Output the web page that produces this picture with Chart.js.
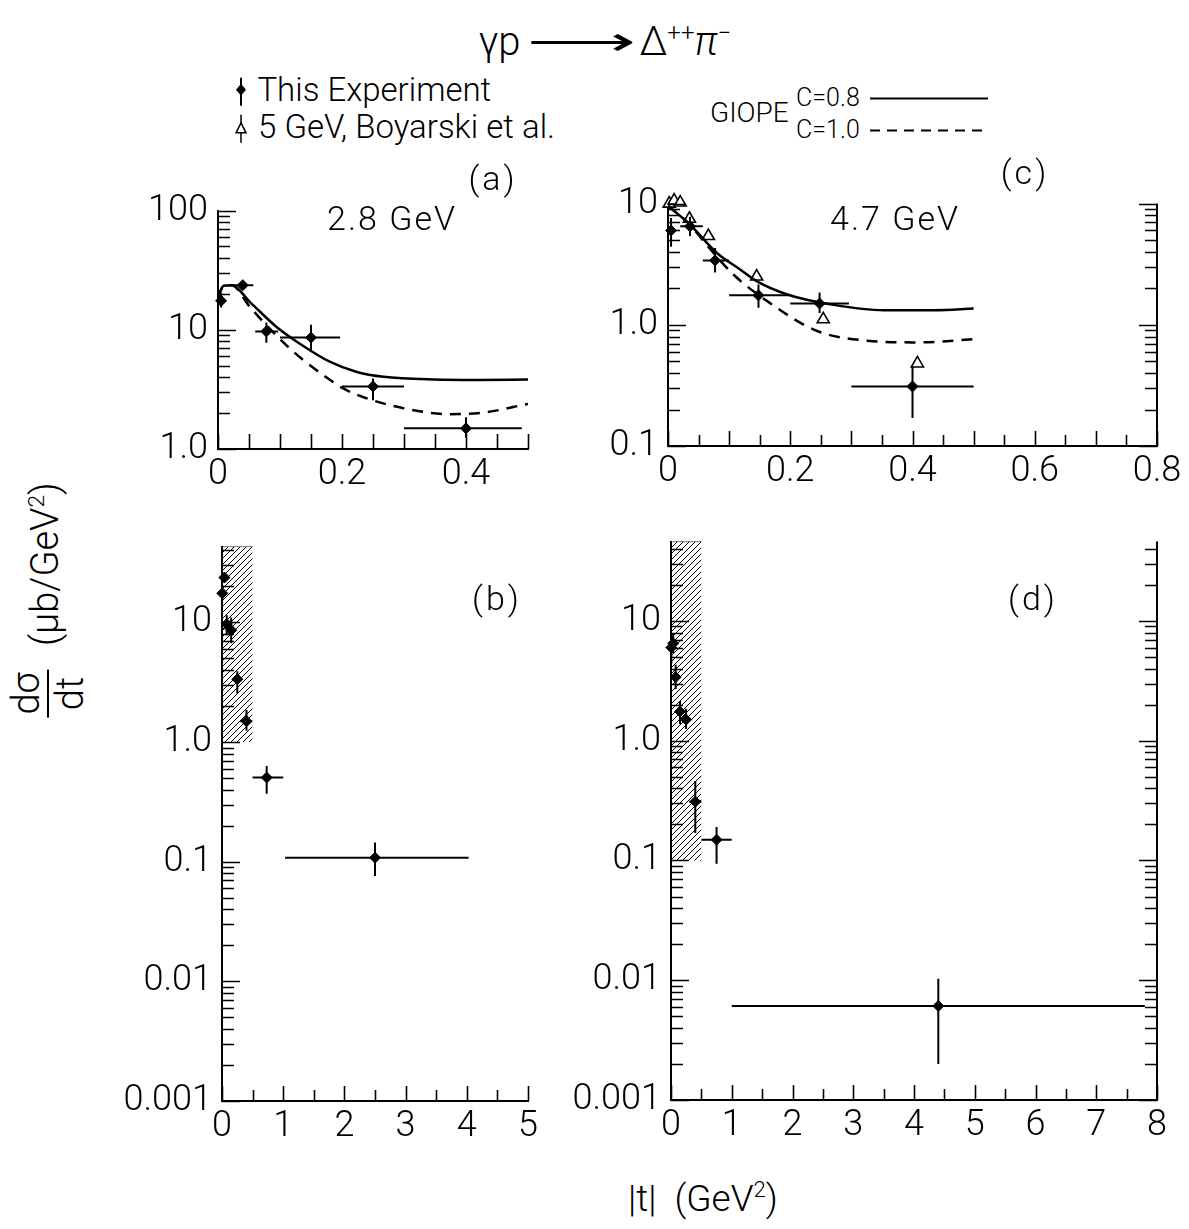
<!DOCTYPE html>
<html>
<head>
<meta charset="utf-8">
<script src="https://cdn.jsdelivr.net/npm/chart.js@4.4.1/dist/chart.umd.min.js"></script>
<style>
  html, body { margin: 0; padding: 0; background: #fff; }
  #page { position: relative; width: 1189px; height: 1229px; overflow: hidden; background: #fff;
          font-family: Roboto, 'DejaVu Sans', sans-serif; font-weight: 300; color: #000; }
  canvas { position: absolute; }
  .txt { position: absolute; white-space: nowrap; line-height: 1; transform: translate(-50%, -50%); }
  .lft { transform: translate(0, -50%); }
  sup { font-size: 60%; vertical-align: 0.6em; line-height: 0; }
  .frac { display: inline-flex; flex-direction: column; vertical-align: middle; text-align: center; }
  .frac .num { border-bottom: 2px solid #000; padding: 0 3px 2px; }
  .frac .den { padding-top: 2px; }
  svg { vertical-align: middle; }
</style>
</head>
<body>
<div id="page">
  <canvas id="ca"></canvas>
  <canvas id="cc"></canvas>
  <canvas id="cb"></canvas>
  <canvas id="cd"></canvas>

  <div class="txt" style="left:605px; top:42px; font-size:40px;">γp<span style="display:inline-block; transform:scaleX(1.9); margin:0 30px 0 32px;">⟶</span>Δ<sup>++</sup><i>π</i><sup>−</sup></div>

  <div class="txt lft" style="left:232px; top:90px; font-size:33px;">
    <svg width="18" height="30"><line x1="9" y1="1" x2="9" y2="29" stroke="#000" stroke-width="2"/><polygon points="9,7 14,13 9,19 4,13" fill="#000"/></svg>
    This Experiment</div>
  <div class="txt lft" style="left:232px; top:127px; font-size:33px;">
    <svg width="18" height="30"><line x1="9" y1="1" x2="9" y2="29" stroke="#000" stroke-width="1.5"/><polygon points="9,9 14,19 4,19" fill="#fff" stroke="#000" stroke-width="1.5"/></svg>
    5 GeV, Boyarski et al.</div>

  <div class="txt lft" style="left:710px; top:113px; font-size:28px;">GIOPE</div>
  <div class="txt lft" style="left:796px; top:97px; font-size:25px;">C=0.8
    <svg width="124" height="10"><line x1="4" y1="5" x2="122" y2="5" stroke="#000" stroke-width="2"/></svg></div>
  <div class="txt lft" style="left:796px; top:129px; font-size:25px;">C=1.0
    <svg width="124" height="10"><line x1="4" y1="5" x2="122" y2="5" stroke="#000" stroke-width="2" stroke-dasharray="10 7"/></svg></div>

  <div class="txt" style="left:493px; top:178px; font-size:34px; letter-spacing:3px;">(a)</div>
  <div class="txt" style="left:1025px; top:172px; font-size:34px; letter-spacing:3px;">(c)</div>
  <div class="txt" style="left:392px; top:218px; font-size:34px; letter-spacing:2px;">2.8 GeV</div>
  <div class="txt" style="left:895px; top:218px; font-size:34px; letter-spacing:2px;">4.7 GeV</div>
  <div class="txt" style="left:497px; top:598px; font-size:34px; letter-spacing:3px;">(b)</div>
  <div class="txt" style="left:1033px; top:598px; font-size:34px; letter-spacing:3px;">(d)</div>

  <div class="txt" style="left:48px; top:600px; font-size:38px; transform:translate(-50%,-50%) rotate(-90deg);">
    <span class="frac"><span class="num">dσ</span><span class="den">dt</span></span>
    <span style="margin-left:14px;">(μb/GeV<sup>2</sup>)</span></div>

  <div class="txt" style="left:703px; top:1198px; font-size:37px;">|t| &nbsp;(GeV<sup>2</sup>)</div>
</div>

<script>
// dσ/dt for γp → Δ++π−, this experiment, 2.8 GeV
const t28    = [0.005, 0.040, 0.078, 0.150, 0.250, 0.400, 0.73, 2.50];
const ds28   = [17.5, 23.7, 9.7, 8.6, 3.35, 1.49, 0.505, 0.108];
const tLo28  = [0.000, 0.022, 0.060, 0.100, 0.200, 0.300, 0.50, 1.03];
const tHi28  = [0.010, 0.057, 0.097, 0.197, 0.300, 0.490, 1.00, 4.03];
const dsLo28 = [15.4, 23.0, 7.8, 6.7, 2.56, 1.24, 0.37, 0.076];
const dsHi28 = [20.5, 24.5, 11.5, 11.0, 3.9, 1.85, 0.63, 0.145];

// this experiment, 4.7 GeV
const t47    = [0.005, 0.036, 0.077, 0.148, 0.248, 0.400, 0.75, 4.40];
const ds47   = [6.0, 6.5, 3.4, 1.75, 1.5, 0.31, 0.149, 0.0061];
const tLo47  = [0.000, 0.020, 0.057, 0.100, 0.200, 0.300, 0.50, 1.00];
const tHi47  = [0.010, 0.057, 0.100, 0.197, 0.296, 0.500, 1.00, 7.80];
const dsLo47 = [4.4, 5.4, 2.7, 1.38, 1.25, 0.17, 0.094, 0.0020];
const dsHi47 = [7.6, 7.8, 4.3, 2.15, 1.85, 0.46, 0.19, 0.0103];

// 5 GeV, Boyarski et al.
const tBoy  = [0.002, 0.010, 0.020, 0.035, 0.066, 0.145, 0.254, 0.408];
const dsBoy = [10.0, 10.6, 10.2, 7.5, 5.4, 2.5, 1.11, 0.48];

// GIOPE model curves, C = 0.8 (solid) and C = 1.0 (dashed)
const tSol28  = [0.0, 0.009, 0.022, 0.052, 0.095, 0.132, 0.181, 0.224, 0.267, 0.348, 0.42, 0.50];
const gSol28  = [18.7, 23.4, 23.7, 17.0, 10.5, 7.64, 5.37, 4.43, 4.03, 3.83, 3.80, 3.83];
const tDash28 = [0.0, 0.009, 0.022, 0.052, 0.105, 0.138, 0.170, 0.202, 0.240, 0.299, 0.374, 0.428, 0.50];
const gDash28 = [18.7, 23.4, 23.7, 15.4, 7.87, 5.55, 4.16, 3.22, 2.66, 2.20, 1.96, 2.02, 2.39];
const tSol47  = [0.0, 0.036, 0.080, 0.118, 0.145, 0.195, 0.271, 0.353, 0.436, 0.50];
const gSol47  = [9.6, 6.7, 3.91, 2.86, 2.29, 1.78, 1.46, 1.32, 1.32, 1.36];
const tDash47 = [0.0, 0.036, 0.063, 0.107, 0.162, 0.243, 0.326, 0.408, 0.50];
const gDash47 = [9.6, 6.7, 4.58, 2.60, 1.57, 0.893, 0.74, 0.716, 0.76];

// shaded region of the small-|t| panels: |t| range and lower dσ/dt edge
const bandT = [0, 0.5];
const bandLow28 = 1.0;
const bandLow47 = 0.1;

const PAD_T = 30, PAD_R = 40, Y_W = 100, X_H = 60;

Chart.defaults.font.family = "Roboto, 'DejaVu Sans', sans-serif";
Chart.defaults.font.weight = '300';
Chart.defaults.color = '#000';

const isDecade = v => Math.abs(Math.log10(v) - Math.round(Math.log10(v))) < 1e-6;

function logTicks(min, max) {
  const out = [];
  for (let e = Math.floor(Math.log10(min)); e <= Math.ceil(Math.log10(max)); e++) {
    for (let m = 1; m <= 9; m++) {
      const v = Number((m * Math.pow(10, e)).toPrecision(4));
      if (v >= min * 0.999 && v <= max * 1.001) out.push(v);
    }
  }
  return out;
}

function linTicks(max, step) {
  const out = [];
  for (let i = 0; i * step <= max + 1e-9; i++) out.push(Number((i * step).toFixed(4)));
  return out;
}

const onStep = (v, step) => Math.abs(v / step - Math.round(v / step)) < 1e-6;

// inward tick marks on the left (and optionally right) axis and on the bottom axis
const axisTicks = {
  id: 'axisTicks',
  afterDraw(chart, args, o) {
    const { ctx, chartArea: a, scales: { x, y } } = chart;
    ctx.save();
    ctx.strokeStyle = '#000';
    ctx.lineWidth = 1.6;
    ctx.beginPath();
    y.ticks.forEach(t => {
      const py = Math.round(y.getPixelForValue(t.value)) + 0.5;
      const len = isDecade(t.value) ? 18 : 12;
      ctx.moveTo(a.left, py); ctx.lineTo(a.left + len, py);
      if (o.right) { ctx.moveTo(a.right, py); ctx.lineTo(a.right - len, py); }
    });
    x.ticks.forEach(t => {
      const px = Math.round(x.getPixelForValue(t.value)) + 0.5;
      const len = onStep(t.value, o.xMajor) ? 15 : 11;
      ctx.moveTo(px, a.bottom); ctx.lineTo(px, a.bottom - len);
    });
    ctx.stroke();
    if (o.right) {
      ctx.lineWidth = 2;
      ctx.beginPath();
      ctx.moveTo(a.right, a.top); ctx.lineTo(a.right, a.bottom);
      ctx.stroke();
    }
    ctx.restore();
  }
};

// horizontal (|t| bin) and vertical (dσ/dt) error bars
const errorBars = {
  id: 'errorBars',
  afterDatasetsDraw(chart) {
    const { ctx, scales: { x, y } } = chart;
    ctx.save();
    ctx.strokeStyle = '#000';
    ctx.lineWidth = 2;
    chart.data.datasets.forEach(ds => {
      if (!ds.errorBars) return;
      ctx.beginPath();
      ds.data.forEach(p => {
        const py = y.getPixelForValue(p.y), px = x.getPixelForValue(p.x);
        ctx.moveTo(x.getPixelForValue(p.xMin), py); ctx.lineTo(x.getPixelForValue(p.xMax), py);
        ctx.moveTo(px, y.getPixelForValue(p.yMin)); ctx.lineTo(px, y.getPixelForValue(p.yMax));
      });
      ctx.stroke();
    });
    ctx.restore();
  }
};

function points(t, v, tLo, tHi, vLo, vHi, tMax) {
  const data = [];
  t.forEach((tt, i) => {
    if (tt > tMax) return;
    data.push({ x: tt, y: v[i], xMin: tLo[i], xMax: Math.min(tHi[i], tMax), yMin: vLo[i], yMax: vHi[i] });
  });
  return {
    data, errorBars: true, showLine: false, clip: false,
    pointStyle: 'rectRot', pointRadius: 5.5, backgroundColor: '#000', borderColor: '#000', borderWidth: 1
  };
}

function curve(t, v, dashed) {
  return {
    data: t.map((tt, i) => ({ x: tt, y: v[i] })),
    showLine: true, pointRadius: 0, borderColor: '#000', borderWidth: 2.5,
    borderDash: dashed ? [11, 8] : [], cubicInterpolationMode: 'monotone', fill: false
  };
}

function triangles(t, v) {
  return {
    data: t.map((tt, i) => ({ x: tt, y: v[i] })),
    showLine: false, clip: false, pointStyle: 'triangle', pointRadius: 7,
    backgroundColor: '#fff', borderColor: '#000', borderWidth: 1.6
  };
}

function band(id, top, low) {
  const tile = document.createElement('canvas');
  tile.width = tile.height = 6;
  const g = tile.getContext('2d');
  g.strokeStyle = '#000';
  g.lineWidth = 1;
  g.beginPath();
  g.moveTo(-1, 7); g.lineTo(7, -1);
  g.moveTo(-1, 1); g.lineTo(1, -1);
  g.moveTo(5, 7); g.lineTo(7, 5);
  g.stroke();
  const pattern = document.getElementById(id).getContext('2d').createPattern(tile, 'repeat');
  return {
    data: bandT.map(tt => ({ x: tt, y: top })),
    showLine: true, pointRadius: 0, borderColor: '#000', borderWidth: 1,
    fill: { value: low }, backgroundColor: pattern
  };
}

function makeChart(id, box, xMax, xStep, xLabelStep, xMajor, yMin, yMax, datasets, right) {
  const cv = document.getElementById(id);
  const [L, T, R, B] = box;
  const w = Y_W + (R - L) + PAD_R, h = PAD_T + (B - T) + X_H;
  cv.width = w; cv.height = h;
  cv.style.left = (L - Y_W) + 'px';
  cv.style.top = (T - PAD_T) + 'px';
  const axisLine = { display: true, color: '#000', width: 2 };
  const noGrid = { display: true, drawOnChartArea: false, drawTicks: false };
  return new Chart(cv, {
    type: 'line',
    data: { datasets },
    options: {
      responsive: false, animation: false, events: [],
      layout: { padding: { top: PAD_T, right: PAD_R, left: 0, bottom: 0 } },
      plugins: { legend: { display: false }, tooltip: { enabled: false }, axisTicks: { right, xMajor } },
      scales: {
        x: {
          type: 'linear', min: 0, max: xMax,
          grid: noGrid, border: axisLine,
          afterFit: s => { s.height = X_H; },
          afterBuildTicks: s => { s.ticks = linTicks(xMax, xStep).map(value => ({ value })); },
          ticks: {
            autoSkip: false, maxRotation: 0, padding: 4, font: { size: 36 },
            callback: v => onStep(v, xLabelStep) ? (v === 0 ? '0' : String(v)) : ''
          }
        },
        y: {
          type: 'logarithmic', min: yMin, max: yMax,
          grid: noGrid, border: axisLine,
          afterFit: s => { s.width = Y_W; },
          afterBuildTicks: s => { s.ticks = logTicks(yMin, yMax).map(value => ({ value })); },
          ticks: {
            autoSkip: false, padding: 10, font: { size: 36 },
            callback: v => isDecade(v) ? (v === 1 ? '1.0' : String(v)) : ''
          }
        }
      }
    },
    plugins: [axisTicks, errorBars]
  });
}

// (a) 2.8 GeV, small |t|
makeChart('ca', [218, 209, 528, 449], 0.5, 0.05, 0.2, 0.05, 1, 100, [
  curve(tSol28, gSol28, false),
  curve(tDash28, gDash28, true),
  points(t28, ds28, tLo28, tHi28, dsLo28, dsHi28, 0.5)
], false);

// (c) 4.7 GeV, small |t|
makeChart('cc', [668, 202, 1157, 446], 0.8, 0.05, 0.2, 0.1, 0.1, 10, [
  curve(tSol47, gSol47, false),
  curve(tDash47, gDash47, true),
  points(t47, ds47, tLo47, tHi47, dsLo47, dsHi47, 0.5),
  triangles(tBoy, dsBoy)
], true);

// (b) 2.8 GeV, full |t| range
makeChart('cb', [222, 545, 528, 1101], 5, 0.5, 1, 1, 0.001, 43, [
  band('cb', 43, bandLow28),
  points(t28, ds28, tLo28, tHi28, dsLo28, dsHi28, 5)
], false);

// (d) 4.7 GeV, full |t| range
makeChart('cd', [671, 540, 1157, 1100], 8, 0.5, 1, 1, 0.001, 46, [
  band('cd', 46, bandLow47),
  points(t47, ds47, tLo47, tHi47, dsLo47, dsHi47, 8)
], true);
</script>
</body>
</html>
